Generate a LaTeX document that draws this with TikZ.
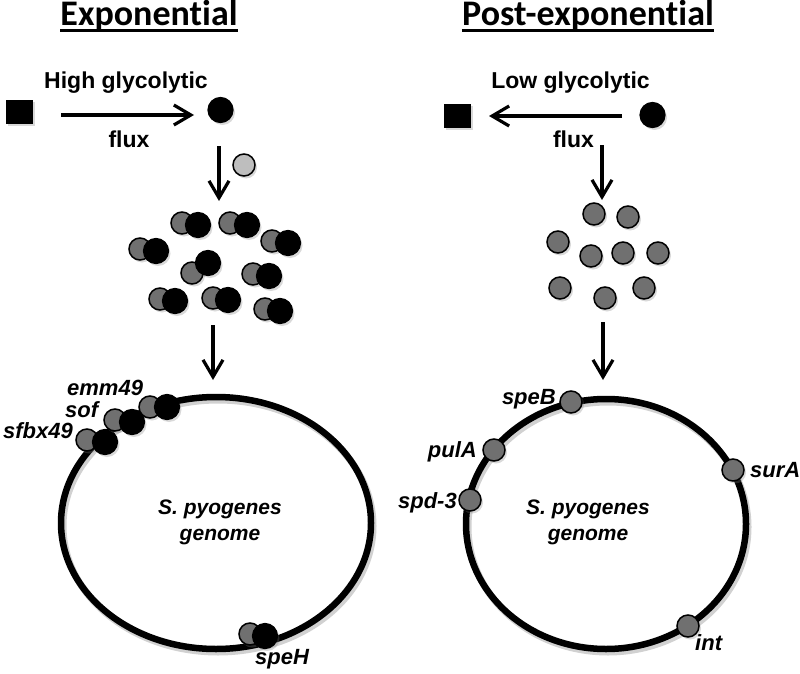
\documentclass[tikz,border=0pt]{standalone}
\usepackage{fontspec}
\setmainfont{Liberation Sans}
\newfontfamily\titlefont[Ligatures={NoCommon,NoRare,NoContextual}]{Carlito}
\usetikzlibrary{arrows.meta,shadows,calc}
\definecolor{cgray}{RGB}{112,112,112}
\definecolor{clight}{RGB}{190,190,190}
\begin{document}
\begin{tikzpicture}[x=1pt,y=-1pt,
  lbl/.style={font=\bfseries\fontsize{23}{23}\selectfont, inner sep=0},
  gene/.style={font=\bfseries\itshape\fontsize{22}{22}\selectfont, inner sep=0},
  inside/.style={font=\bfseries\itshape\fontsize{21}{21}\selectfont, inner sep=0},
  ttl/.style={font=\titlefont\bfseries\fontsize{36}{36}\selectfont, inner sep=0},
  shd/.style={drop shadow={opacity=0.3,shadow xshift=2pt,shadow yshift=-2.5pt}},
  blk/.style={circle,fill=black,draw=black,line width=1.2pt,minimum size=25pt,inner sep=0,shd},
  gry/.style={circle,fill=cgray,draw=black,line width=1.5pt,minimum size=22pt,inner sep=0,shd},
  lgt/.style={circle,fill=clight,draw=black,line width=1.5pt,minimum size=22pt,inner sep=0,shd},
  sqr/.style={rectangle,fill=black,minimum width=27pt,minimum height=24pt,inner sep=0,shd},
  arr/.style={line width=3.2pt,-{Straight Barb[length=17pt,width=20pt,line width=3.2pt]}},
  genome/.style={line width=6.5pt},
  gshadow/.style={line width=7pt,black,opacity=0.18}
]
\useasboundingbox (0,0) rectangle (800,674);

% titles
\node[ttl, anchor=base] (t1) at (149,26) {Exponential};
\draw[line width=2.3pt] ($(t1.base west)+(0,4.5)$) -- ($(t1.base east)+(0,4.5)$);
\node[ttl, anchor=base] (t2) at (588,26) {Post-exponential};
\draw[line width=2.3pt] ($(t2.base west)+(0,4.5)$) -- ($(t2.base east)+(0,4.5)$);

% ---------- left panel ----------
\node[sqr] (s1) at (19,112) {};
\node[blk] (m1) at (220.5,110) {};
\node[lbl, anchor=base] (hg) at (126,89) {High glycolytic};
\node[lbl, anchor=base] (fx1) at (129,147) {flux};
\coordinate (a1s) at (61,115);
\coordinate (a1e) at (194,115);
\draw[arr] (a1s) -- (a1e);
\node[lgt] (g1) at (244,165) {};
\coordinate (d1s) at (219,146);
\coordinate (d1e) at (219,201);
\draw[arr] (d1s) -- (d1e);

% cluster of pairs
\foreach \gx/\gy/\bx/\by [count=\i] in {182/223/198/225, 230/223/247/225, 272/241/288/243,
   140/249/156/251, 192/273/208/263, 253/274/269/276, 160/299/175/301, 213/298/228/300, 265/309/280/311}{
  \node[gry] (cg\i) at (\gx,\gy) {};
  \node[blk] (cb\i) at (\bx,\by) {};
}
\coordinate (d2s) at (213,325);
\coordinate (d2e) at (213,380);
\draw[arr] (d2s) -- (d2e);

% genome left
\draw[gshadow] (218,526) ellipse [x radius=155, y radius=126];
\draw[genome] (216,523) ellipse [x radius=155, y radius=126];
\node[gry] (lg1) at (87,440) {};
\node[blk] (lb1) at (105,442) {};
\node[gry] (lg2) at (115,420) {};
\node[blk] (lb2) at (132,422) {};
\node[gry] (lg3) at (150,407) {};
\node[blk] (lb3) at (167,407) {};
\node[gry] (lg4) at (250,634) {};
\node[blk] (lb4) at (265,636) {};
\node[gene, anchor=base west] (emm) at (67,395) {emm49};
\node[gene, anchor=base west] (sof) at (65,417) {sof};
\node[gene, anchor=base east] (sfb) at (73,438) {sfbx49};
\node[gene, anchor=base west] (speH) at (255,664) {speH};
\node[inside, anchor=base] (sp1) at (220,514) {S. pyogenes};
\node[inside, anchor=base] (ge1) at (220,540) {genome};

% ---------- right panel ----------
\node[sqr] (s2) at (457,116) {};
\node[blk] (m2) at (652.5,115) {};
\node[lbl, anchor=base] (lg) at (570.5,89) {Low glycolytic};
\node[lbl, anchor=base] (fx2) at (573.5,147) {flux};
\coordinate (a2s) at (622,116);
\coordinate (a2e) at (489,116);
\draw[arr] (a2s) -- (a2e);
\coordinate (d3s) at (602,145);
\coordinate (d3e) at (602,200);
\draw[arr] (d3s) -- (d3e);

\foreach \x/\y [count=\i] in {594/214, 628/217, 558/242, 591/256, 623/253, 658/253, 560/288, 605/298, 644/288}{
  \node[gry] (rc\i) at (\x,\y) {};
}
\coordinate (d4s) at (603,322);
\coordinate (d4e) at (603,380);
\draw[arr] (d4s) -- (d4e);

% genome right
\draw[gshadow] (608,527) ellipse [x radius=140, y radius=125];
\draw[genome] (606,524) ellipse [x radius=140, y radius=125];
\node[gry] (rg1) at (571,402) {};
\node[gry] (rg2) at (494,450) {};
\node[gry] (rg3) at (470,500) {};
\node[gry] (rg4) at (733,470) {};
\node[gry] (rg5) at (688,626) {};
\node[gene, anchor=base east] (speB) at (556,404) {speB};
\node[gene, anchor=base east] (pulA) at (477,457) {pulA};
\node[gene, anchor=base east] (spd) at (457,508) {spd-3};
\node[gene, anchor=base west] (surA) at (750,477) {surA};
\node[gene, anchor=base west] (int) at (695,650) {int};
\node[inside, anchor=base] (sp2) at (588,514) {S. pyogenes};
\node[inside, anchor=base] (ge2) at (588,540) {genome};
\end{tikzpicture}
\end{document}
